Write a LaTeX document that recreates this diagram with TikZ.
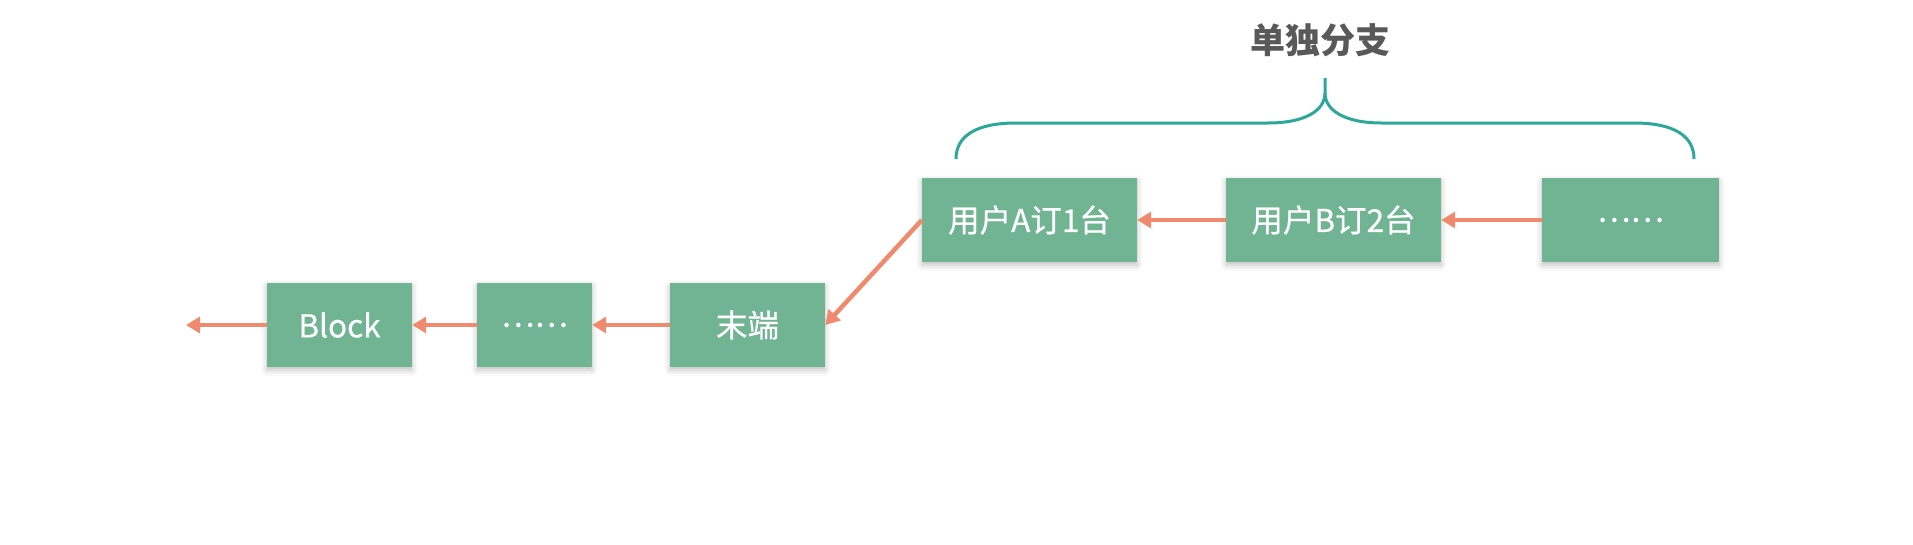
\documentclass[tikz,border=0pt]{standalone}
\usepackage{fontspec}
\setmainfont{Noto Sans CJK SC}
\newfontfamily\boxfont[FakeBold=0.5]{Noto Sans CJK SC}
\usetikzlibrary{arrows.meta,shadows.blur}
\definecolor{boxgreen}{HTML}{71B493}
\definecolor{arrowred}{HTML}{F08A6E}
\definecolor{braceteal}{HTML}{2BA89A}
\definecolor{titlegray}{HTML}{595959}
\begin{document}
\begin{tikzpicture}[x=1pt,y=-1pt,
  blk/.style={fill=boxgreen, draw=none, text=white, inner sep=0pt,
    font=\boxfont\fontsize{31.5}{36}\selectfont,
    blur shadow={shadow xshift=0pt, shadow yshift=-3pt, shadow blur radius=6pt, shadow opacity=25}},
  link/.style={draw=arrowred, line width=4.5pt, -{Triangle[length=14pt,width=16pt]}},
  brace/.style={draw=braceteal, line width=3pt}]
\useasboundingbox (0,0) rectangle (1913,544);
% lower row
\node[blk, minimum width=145pt, minimum height=84pt] (block) at (339.5,325) {Block};
\node[blk, minimum width=115pt, minimum height=84pt] (dots1) at (534.5,325) {……};
\node[blk, minimum width=155pt, minimum height=84pt] (tail) at (747.5,325) {末端};
% upper row
\node[blk, minimum width=215pt, minimum height=84pt] (ua) at (1029.5,220) {用户A订1台};
\node[blk, minimum width=215pt, minimum height=84pt] (ub) at (1333.5,220) {用户B订2台};
\node[blk, minimum width=177pt, minimum height=84pt] (dots2) at (1630.5,220) {……};
\coordinate (lend) at (186,325);
% connectors
\draw[link] (block.west) -- (lend);
\draw[link] (dots1.west) -- (block.east);
\draw[link] (tail.west) -- (dots1.east);
\draw[link] (ua.west) -- (tail.east);
\draw[link] (ub.west) -- (ua.east);
\draw[link] (dots2.west) -- (ub.east);
% brace
\draw[brace] (956,159) .. controls (956,136) and (976,123) .. (1016,123)
  -- (1268,123) .. controls (1306,123) and (1325,110) .. (1325,93) -- (1325,78);
\draw[brace] (1325,93) .. controls (1325,110) and (1344,123) .. (1382,123)
  -- (1634,123) .. controls (1674,123) and (1694,136) .. (1694,159);
\node[text=titlegray, font=\fontsize{35}{40}\selectfont\bfseries] (title) at (1320,40) {单独分支};
\end{tikzpicture}
\end{document}
